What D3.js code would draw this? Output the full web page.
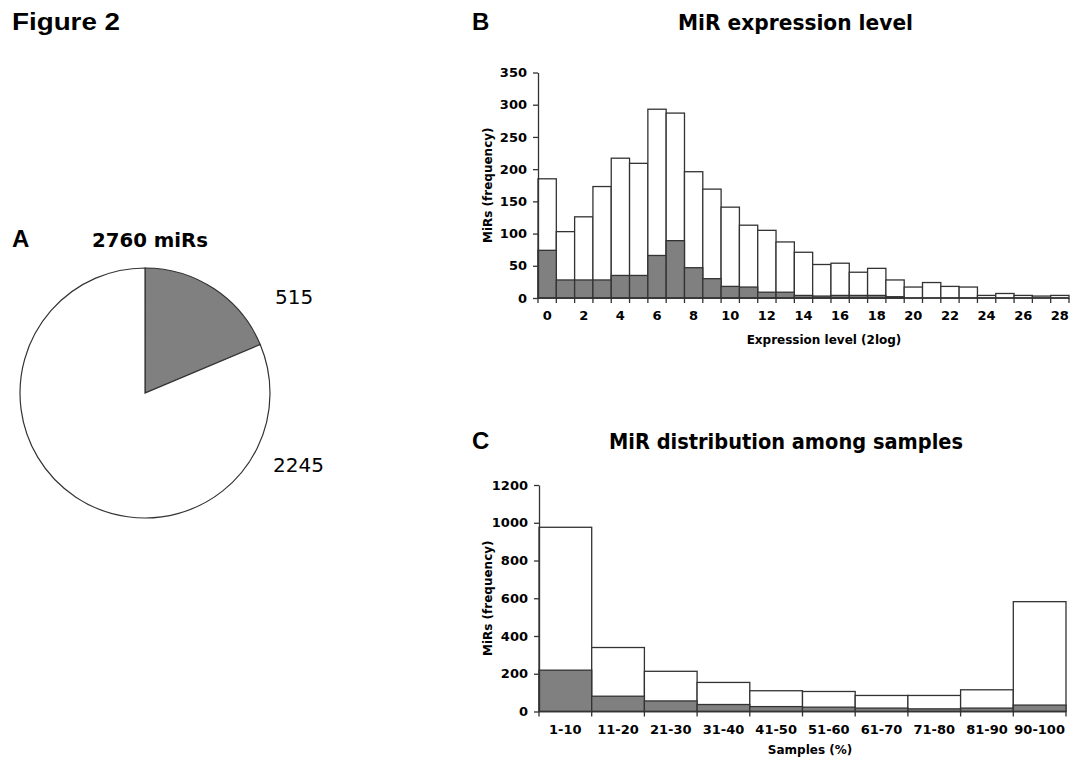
<!DOCTYPE html>
<html>
<head>
<meta charset="utf-8">
<script src="https://cdn.jsdelivr.net/npm/d3@7"></script>
<style>
  body { margin: 0; background: #fff; }
  svg text { fill: #000; }
</style>
</head>
<body>
<div id="fig"></div>
<script>
// panel A: pie
const pieValues = [515, 2245];
const pieLabels = ['515', '2245'];

// panel B: expression level histogram (bins 0..28)
const exprBins = d3.range(0, 29);
const exprTotal = [185, 103, 126, 173, 217, 209, 293, 287, 196, 169, 141, 113, 105, 87, 71, 52, 54, 40, 46, 28, 17, 24, 18, 17, 4, 7, 4, 3, 4];
const exprSub = [74, 28, 28, 28, 35, 35, 66, 89, 47, 30, 18, 17, 9, 9, 4, 3, 4, 4, 4, 2, 0, 0, 0, 0, 0, 0, 0, 0, 0];
const exprTicks = [0, 50, 100, 150, 200, 250, 300, 350];

// panel C: distribution among samples
const sampleCats = ['1-10', '11-20', '21-30', '31-40', '41-50', '51-60', '61-70', '71-80', '81-90', '90-100'];
const sampleTotal = [976, 339, 213, 154, 110, 106, 85, 85, 115, 582];
const sampleSub = [219, 81, 56, 37, 26, 23, 18, 14, 18, 34];
const sampleTicks = [0, 200, 400, 600, 800, 1000, 1200];

const W = 1075, H = 762;
const GRAY = '#808080', LINE = '#333';
const FONT = 'DejaVu Sans, sans-serif';

const svg = d3.select('#fig').append('svg').attr('width', W).attr('height', H);

// headings
const heads = [
  {t: 'Figure 2', x: 12, y: 30, len: 108},
  {t: 'A', x: 12, y: 247},
  {t: 'B', x: 472, y: 29.5},
  {t: 'C', x: 472, y: 449}
];
const hd = svg.selectAll('text.head').data(heads).enter().append('text')
  .attr('class', 'head')
  .attr('x', d => d.x).attr('y', d => d.y)
  .attr('font-family', 'Liberation Sans, Arial, sans-serif')
  .attr('font-weight', 'bold').attr('font-size', 24)
  .text(d => d.t);
hd.filter(d => d.len).attr('textLength', d => d.len).attr('lengthAdjust', 'spacingAndGlyphs');

// ---- A: pie ----
const cx = 145, cy = 393, r = 125;
const pie = d3.pie().sort(null).value(d => d)(pieValues);
const arc = d3.arc().innerRadius(0).outerRadius(r);
const gA = svg.append('g').attr('transform', `translate(${cx},${cy})`);
gA.selectAll('path').data(pie).enter().append('path')
  .attr('d', arc)
  .attr('fill', (d, i) => i === 0 ? GRAY : '#fff')
  .attr('stroke', LINE).attr('stroke-width', 1.2);

svg.append('text').attr('x', 150).attr('y', 247)
  .attr('text-anchor', 'middle').attr('font-family', FONT)
  .attr('font-weight', 600).attr('font-size', 19)
  .attr('textLength', 116).attr('lengthAdjust', 'spacingAndGlyphs')
  .text('2760 miRs');
const pieLabelPos = [[275, 304], [273, 472]];
svg.selectAll('text.pl').data(pieLabels).enter().append('text')
  .attr('class', 'pl')
  .attr('x', (d, i) => pieLabelPos[i][0]).attr('y', (d, i) => pieLabelPos[i][1])
  .attr('font-family', FONT).attr('font-size', 20)
  .text(d => d);

// helper for histogram panels
function panel(opt) {
  const g = svg.append('g');
  const x = opt.x, y = opt.y;

  g.selectAll('rect.tot').data(opt.total).enter().append('rect')
    .attr('class', 'tot')
    .attr('x', (d, i) => x(opt.cats[i])).attr('width', x.bandwidth())
    .attr('y', d => y(d)).attr('height', d => y(0) - y(d))
    .attr('fill', '#fff').attr('stroke', LINE).attr('stroke-width', 1.3);

  g.selectAll('rect.sub').data(opt.sub).enter().append('rect')
    .attr('class', 'sub')
    .attr('x', (d, i) => x(opt.cats[i])).attr('width', x.bandwidth())
    .attr('y', d => y(d)).attr('height', d => y(0) - y(d))
    .attr('fill', GRAY).attr('stroke', LINE).attr('stroke-width', d => d > 0 ? 1.3 : 0);

  // y axis
  const ya = g.append('g').attr('transform', `translate(${x.range()[0]},0)`)
    .call(d3.axisLeft(y).tickValues(opt.yTicks).tickFormat(d3.format('d'))
      .tickSize(5).tickSizeOuter(0));
  ya.select('.domain').attr('stroke', LINE).attr('stroke-width', 1.3);
  ya.selectAll('line').attr('stroke', LINE).attr('stroke-width', 1.3);
  ya.selectAll('text').attr('font-family', FONT).attr('font-size', 13)
    .attr('font-weight', 600).attr('dx', -3);

  // x axis: boundary ticks
  const y0 = y(0);
  const bounds = opt.cats.map(c => x(c)).concat([x.range()[1]]);
  g.append('line').attr('x1', x.range()[0]).attr('x2', x.range()[1])
    .attr('y1', y0).attr('y2', y0).attr('stroke', LINE).attr('stroke-width', 1.3);
  g.selectAll('line.bt').data(bounds).enter().append('line')
    .attr('class', 'bt')
    .attr('x1', d => d).attr('x2', d => d).attr('y1', y0).attr('y2', y0 + 5)
    .attr('stroke', LINE).attr('stroke-width', 1.3);

  // x labels
  g.selectAll('text.xl').data(opt.xLabels).enter().append('text')
    .attr('class', 'xl')
    .attr('x', d => x(d) + x.bandwidth() / 2).attr('y', y0 + 22)
    .attr('text-anchor', 'middle').attr('font-family', FONT)
    .attr('font-size', 13).attr('font-weight', 600)
    .text(d => d);

  // titles
  g.append('text').attr('x', opt.titleX).attr('y', opt.titleY)
    .attr('text-anchor', 'middle').attr('font-family', FONT)
    .attr('font-weight', 'bold').attr('font-size', 21)
    .attr('textLength', opt.titleLen).attr('lengthAdjust', 'spacingAndGlyphs')
    .text(opt.title);
  g.append('text').attr('x', opt.xTitleX).attr('y', y0 + opt.xTitleDy)
    .attr('text-anchor', 'middle').attr('font-family', FONT)
    .attr('font-weight', 600).attr('font-size', 12)
    .text(opt.xTitle);
  const ymid = (y.range()[0] + y.range()[1]) / 2;
  g.append('text').attr('transform', `translate(${opt.yTitleX},${ymid}) rotate(-90)`)
    .attr('text-anchor', 'middle').attr('font-family', FONT)
    .attr('font-weight', 600).attr('font-size', 12)
    .text('MiRs (frequency)');
}

panel({
  cats: exprBins,
  x: d3.scaleBand().domain(exprBins).range([538, 1069]).padding(0),
  y: d3.scaleLinear().domain([0, 350]).range([298, 72.5]),
  total: exprTotal, sub: exprSub, yTicks: exprTicks,
  xLabels: exprBins.filter(d => d % 2 === 0),
  title: 'MiR expression level', titleX: 795.5, titleY: 29.5, titleLen: 235,
  xTitle: 'Expression level (2log)', xTitleX: 824, xTitleDy: 46,
  yTitleX: 492
});

panel({
  cats: sampleCats,
  x: d3.scaleBand().domain(sampleCats).range([539, 1066]).padding(0),
  y: d3.scaleLinear().domain([0, 1200]).range([711.5, 485]),
  total: sampleTotal, sub: sampleSub, yTicks: sampleTicks,
  xLabels: sampleCats,
  title: 'MiR distribution among samples', titleX: 786, titleY: 449, titleLen: 354,
  xTitle: 'Samples (%)', xTitleX: 810, xTitleDy: 42,
  yTitleX: 492
});
</script>
</body>
</html>
